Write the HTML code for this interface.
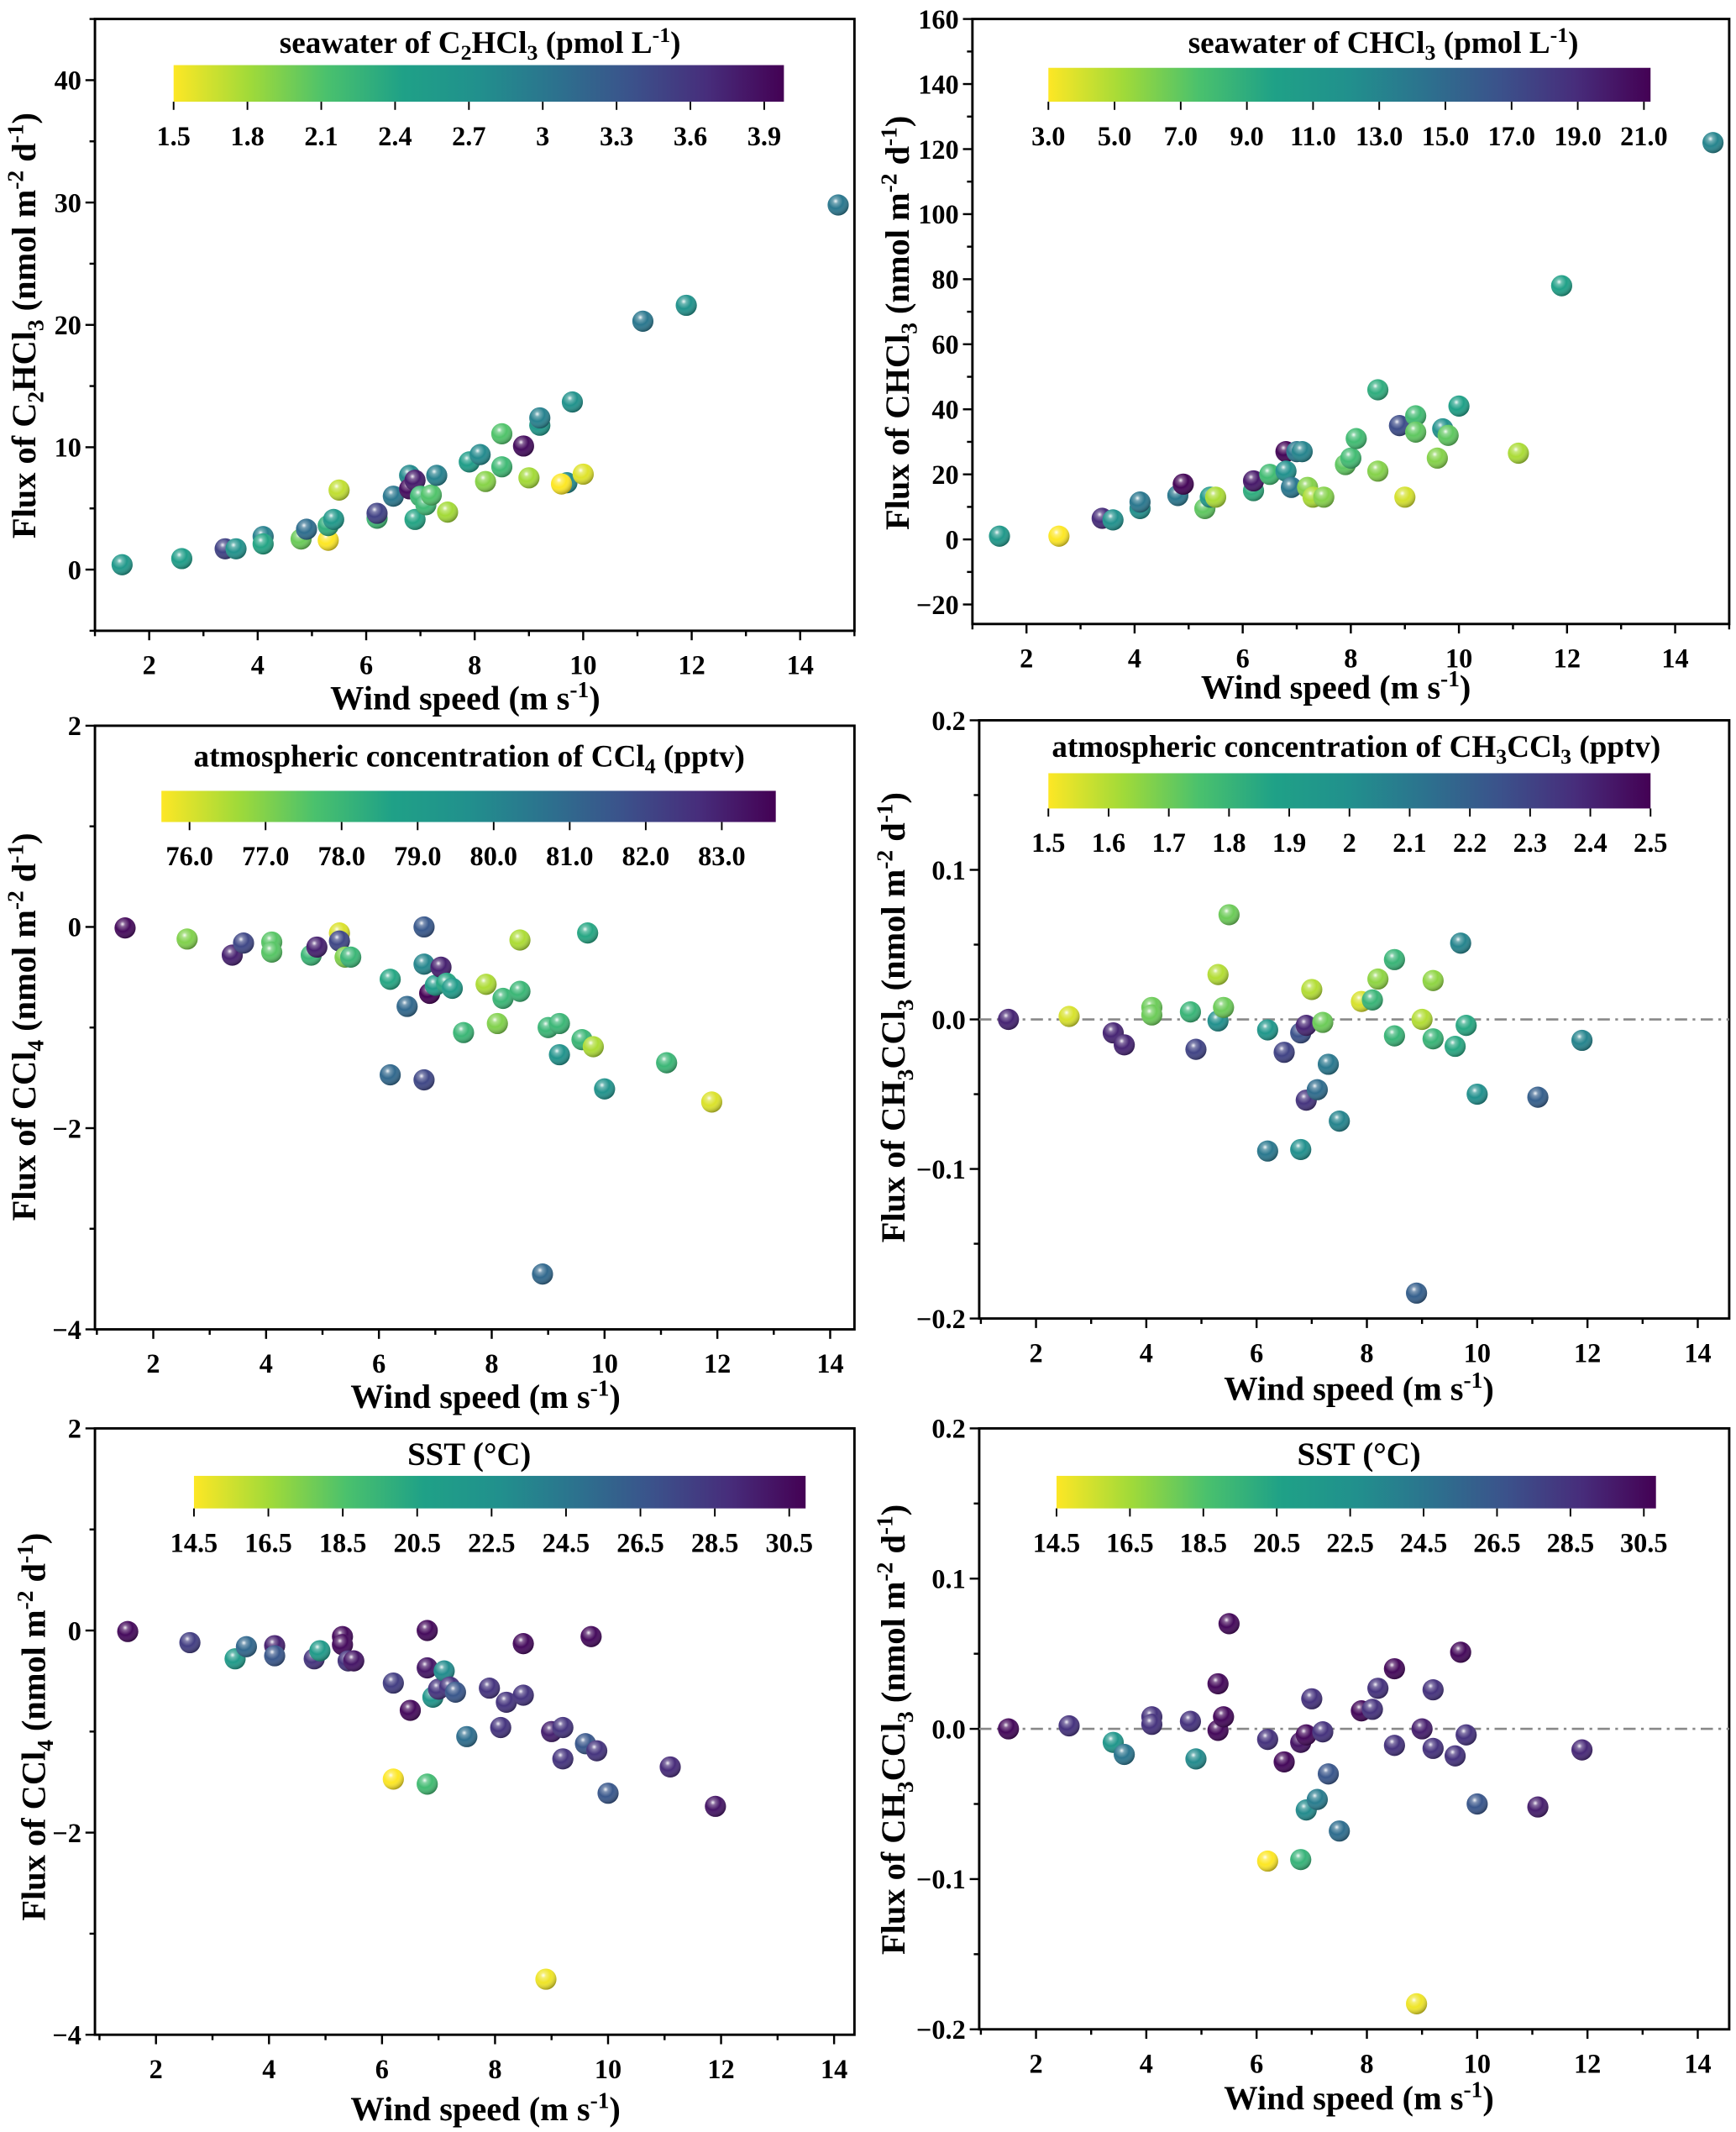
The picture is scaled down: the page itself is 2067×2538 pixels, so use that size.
<!DOCTYPE html>
<html><head><meta charset="utf-8">
<style>
html,body{margin:0;padding:0;background:#fff;}
svg{display:block;font-family:"Liberation Serif",serif;font-weight:bold;}
</style></head>
<body>
<svg id="fig" width="2067" height="2538" viewBox="0 0 1280 1571.7" xmlns="http://www.w3.org/2000/svg">
<defs>
<linearGradient id="viridis" x1="0" x2="1" y1="0" y2="0">
<stop offset="0" stop-color="#fde725"/><stop offset="0.125" stop-color="#a0da39"/><stop offset="0.25" stop-color="#4ac16d"/><stop offset="0.375" stop-color="#1fa187"/><stop offset="0.5" stop-color="#21908d"/><stop offset="0.625" stop-color="#2c728e"/><stop offset="0.75" stop-color="#3b528b"/><stop offset="0.875" stop-color="#472d7b"/><stop offset="1" stop-color="#440154"/>
</linearGradient>
<radialGradient id="shine" cx="0.38" cy="0.32" r="0.7">
<stop offset="0" stop-color="#fff" stop-opacity="0.95"/><stop offset="0.18" stop-color="#fff" stop-opacity="0.35"/><stop offset="0.5" stop-color="#fff" stop-opacity="0"/><stop offset="1" stop-color="#000" stop-opacity="0.35"/>
</radialGradient>
</defs>
<g id="layer"></g>
<text x="354" y="39" font-size="23" text-anchor="middle">seawater of C<tspan dy="5" font-size="16">2</tspan><tspan dy="-5">HCl</tspan><tspan dy="5" font-size="16">3</tspan><tspan dy="-5"> (pmol L</tspan><tspan dy="-8" font-size="16">-1</tspan><tspan dy="8">)</tspan></text>
<text x="1020" y="39" font-size="23" text-anchor="middle">seawater of CHCl<tspan dy="5" font-size="16">3</tspan><tspan dy="-5"> (pmol L</tspan><tspan dy="-8" font-size="16">-1</tspan><tspan dy="8">)</tspan></text>
<text x="346" y="565" font-size="23" text-anchor="middle">atmospheric concentration of CCl<tspan dy="5" font-size="16">4</tspan><tspan dy="-5"> (pptv)</tspan></text>
<text x="1000" y="558" font-size="23" text-anchor="middle">atmospheric concentration of CH<tspan dy="5" font-size="16">3</tspan><tspan dy="-5">CCl</tspan><tspan dy="5" font-size="16">3</tspan><tspan dy="-5"> (pptv)</tspan></text>
<text x="346" y="1080" font-size="24" text-anchor="middle">SST (°C)</text>
<text x="1002" y="1080" font-size="24" text-anchor="middle">SST (°C)</text>
<text x="343" y="523" font-size="25" text-anchor="middle">Wind speed (m s<tspan dy="-9" font-size="17">-1</tspan><tspan dy="9">)</tspan></text>
<text x="985" y="515" font-size="25" text-anchor="middle">Wind speed (m s<tspan dy="-9" font-size="17">-1</tspan><tspan dy="9">)</tspan></text>
<text x="358" y="1038" font-size="25" text-anchor="middle">Wind speed (m s<tspan dy="-9" font-size="17">-1</tspan><tspan dy="9">)</tspan></text>
<text x="1002" y="1032" font-size="25" text-anchor="middle">Wind speed (m s<tspan dy="-9" font-size="17">-1</tspan><tspan dy="9">)</tspan></text>
<text x="358" y="1563" font-size="25" text-anchor="middle">Wind speed (m s<tspan dy="-9" font-size="17">-1</tspan><tspan dy="9">)</tspan></text>
<text x="1002" y="1555" font-size="25" text-anchor="middle">Wind speed (m s<tspan dy="-9" font-size="17">-1</tspan><tspan dy="9">)</tspan></text>
<text transform="translate(26,240) rotate(-90)" font-size="25" text-anchor="middle">Flux of C<tspan dy="6" font-size="17">2</tspan><tspan dy="-6">HCl</tspan><tspan dy="6" font-size="17">3</tspan><tspan dy="-6"> (nmol m</tspan><tspan dy="-9" font-size="17">-2</tspan><tspan dy="9"> d</tspan><tspan dy="-9" font-size="17">-1</tspan><tspan dy="9">)</tspan></text>
<text transform="translate(670,238) rotate(-90)" font-size="25" text-anchor="middle">Flux of CHCl<tspan dy="6" font-size="17">3</tspan><tspan dy="-6"> (nmol m</tspan><tspan dy="-9" font-size="17">-2</tspan><tspan dy="9"> d</tspan><tspan dy="-9" font-size="17">-1</tspan><tspan dy="9">)</tspan></text>
<text transform="translate(26,757) rotate(-90)" font-size="25" text-anchor="middle">Flux of CCl<tspan dy="6" font-size="17">4</tspan><tspan dy="-6"> (nmol m</tspan><tspan dy="-9" font-size="17">-2</tspan><tspan dy="9"> d</tspan><tspan dy="-9" font-size="17">-1</tspan><tspan dy="9">)</tspan></text>
<text transform="translate(667,750) rotate(-90)" font-size="25" text-anchor="middle">Flux of CH<tspan dy="6" font-size="17">3</tspan><tspan dy="-6">CCl</tspan><tspan dy="6" font-size="17">3</tspan><tspan dy="-6"> (nmol m</tspan><tspan dy="-9" font-size="17">-2</tspan><tspan dy="9"> d</tspan><tspan dy="-9" font-size="17">-1</tspan><tspan dy="9">)</tspan></text>
<text transform="translate(33,1273) rotate(-90)" font-size="25" text-anchor="middle">Flux of CCl<tspan dy="6" font-size="17">4</tspan><tspan dy="-6"> (nmol m</tspan><tspan dy="-9" font-size="17">-2</tspan><tspan dy="9"> d</tspan><tspan dy="-9" font-size="17">-1</tspan><tspan dy="9">)</tspan></text>
<text transform="translate(667,1275) rotate(-90)" font-size="25" text-anchor="middle">Flux of CH<tspan dy="6" font-size="17">3</tspan><tspan dy="-6">CCl</tspan><tspan dy="6" font-size="17">3</tspan><tspan dy="-6"> (nmol m</tspan><tspan dy="-9" font-size="17">-2</tspan><tspan dy="9"> d</tspan><tspan dy="-9" font-size="17">-1</tspan><tspan dy="9">)</tspan></text>
</svg>
<script>
const windA = [1.5,2.6,3.4,3.6,4.1,4.1,4.8,4.9,5.3,5.3,5.4,5.5,6.2,6.2,6.5,6.8,6.8,6.9,6.9,7.0,7.1,7.2,7.3,7.5,7.9,8.1,8.2,8.5,8.5,8.9,9.0,9.2,9.2,9.7,9.6,9.8,10.0,11.1,11.9,14.7];
const fluxC2HCl3 = [0.4,0.9,1.7,1.7,2.7,2.1,2.5,3.3,2.4,3.6,4.1,6.5,4.2,4.6,6.0,7.7,6.6,7.3,4.1,6.0,5.3,6.1,7.7,4.7,8.8,9.4,7.2,11.1,8.4,10.1,7.5,11.8,12.4,7.1,7.0,13.7,7.8,20.3,21.6,29.8];
const swC2HCl3 = [2.6,2.5,3.5,2.7,2.9,2.4,2.0,3.1,1.5,2.3,2.6,1.7,2.2,3.5,3.0,2.8,3.9,3.8,2.4,2.2,2.2,2.1,2.9,1.8,2.5,2.8,1.9,2.1,2.2,3.9,1.8,2.6,2.9,2.8,1.5,2.7,1.6,3.0,2.7,3.0];
const windB = [1.5,2.6,3.4,3.6,4.1,4.1,4.8,4.9,5.3,5.4,5.5,6.2,6.2,6.5,6.8,6.8,6.9,7.0,7.1,7.2,7.3,7.5,7.9,8.0,8.1,8.5,8.5,8.9,9.0,9.2,9.2,9.6,9.7,9.8,10.0,11.1,11.9,14.7];
const fluxCHCl3 = [1,1,6.5,6,9.5,11.5,13.5,17,9.5,13,13,15,18,20,27,21,16,27,27,16,13,13,23,25,31,46,21,35,13,38,33,25,34,32,41,26.5,78,122];
const swCHCl3 = [11,3,19,12,12,14,14,21,7,11,5,9,20,8,21,12,14,14,13,6,5,6,7,8,8,9,6,17,4,8,7,6,12,7,10,5,10,13];
const windC = [1.5,2.6,3.4,3.6,4.1,4.1,4.8,4.9,5.3,5.3,5.4,5.5,6.2,6.2,6.5,6.8,6.8,6.8,6.9,7.0,7.1,7.2,7.3,7.5,7.9,8.1,8.2,8.5,8.5,9.0,8.9,9.2,9.2,9.6,9.7,9.8,10.0,11.1,11.9];
const fluxCCl4 = [-0.01,-0.12,-0.28,-0.16,-0.15,-0.25,-0.28,-0.2,-0.06,-0.14,-0.3,-0.3,-0.52,-1.47,-0.79,0.0,-0.37,-1.52,-0.66,-0.58,-0.4,-0.56,-0.61,-1.05,-0.57,-0.96,-0.71,-0.13,-0.64,-1.0,-3.45,-0.96,-1.27,-1.12,-0.06,-1.19,-1.61,-1.35,-1.74];
const atmCCl4 = [83.5,77.0,83.0,82.0,77.5,77.5,78.0,83.0,76.0,82.0,77.0,78.0,78.5,81.0,81.0,81.5,80.0,82.0,83.7,79.0,83.0,78.5,79.0,78.0,76.5,77.0,78.0,76.5,78.0,78.0,81.0,78.0,79.5,78.0,78.5,76.5,79.5,78.0,76.0];
const sstCCl4 = [30.5,28.0,21.5,25.5,29.5,26.5,28.5,21.5,30.5,30.5,28.5,30.0,28.0,14.5,30.5,30.5,30.0,19.0,22.0,28.5,23.0,28.5,26.5,25.0,28.5,28.5,28.5,30.5,28.5,29.5,14.8,28.5,28.5,26.5,30.5,28.5,26.5,29.0,30.0];
const windD = [1.5,2.6,3.4,3.6,4.1,4.1,4.8,4.9,5.3,5.3,5.4,5.5,6.2,6.2,6.5,6.8,6.8,6.9,6.9,7.0,7.1,7.2,7.3,7.5,7.9,8.1,8.2,8.5,8.5,8.9,9.0,9.2,9.2,9.6,9.7,9.8,10.0,11.1,11.9];
const fluxCH3CCl3 = [0,0.002,-0.009,-0.017,0.008,0.003,0.005,-0.02,0.03,-0.001,0.008,0.07,-0.007,-0.088,-0.022,-0.009,-0.087,-0.004,-0.054,0.02,-0.047,-0.002,-0.03,-0.068,0.012,0.013,0.027,0.04,-0.011,-0.183,0,0.026,-0.013,-0.018,0.051,-0.004,-0.05,-0.052,-0.014];
const atmCH3CCl3 = [2.4,1.55,2.4,2.4,1.7,1.7,1.8,2.3,1.6,2.0,1.7,1.7,1.95,2.1,2.3,2.25,2.0,2.4,2.35,1.6,2.15,1.7,2.1,2.05,1.55,1.8,1.65,1.8,1.8,2.2,1.6,1.65,1.8,1.85,2.05,1.85,2.0,2.2,2.05];
const sstCH3CCl3 = [30.5,28.5,22.0,24.5,28.5,28.5,28.5,23.0,30.5,30.5,30.5,30.5,28.5,14.5,30.5,30.0,19.5,30.5,23.0,28.5,24.0,28.5,26.5,25.0,30.5,28.5,28.5,30.5,28.5,14.8,29.5,28.5,28.5,28.5,30.5,28.5,26.5,29.5,29.0];

const NS = 'http://www.w3.org/2000/svg';
const layer = document.getElementById('layer');
const vir = [[0,'#fde725'],[0.125,'#a0da39'],[0.25,'#4ac16d'],[0.375,'#1fa187'],[0.5,'#21908d'],[0.625,'#2c728e'],[0.75,'#3b528b'],[0.875,'#472d7b'],[1,'#440154']];
function hex(h){return [1,3,5].map(i=>parseInt(h.substr(i,2),16));}
function cmap(t){
  t=Math.max(0,Math.min(1,t));
  for(let i=0;i<vir.length-1;i++){
    if(t<=vir[i+1][0]){
      const a=hex(vir[i][1]),b=hex(vir[i+1][1]),f=(t-vir[i][0])/(vir[i+1][0]-vir[i][0]);
      return 'rgb('+a.map((v,k)=>Math.round(v+(b[k]-v)*f)).join(',')+')';
    }
  }
  return vir[vir.length-1][1];
}
function mk(tag,attrs,parent){const e=document.createElementNS(NS,tag);for(const k in attrs)e.setAttribute(k,attrs[k]);(parent||layer).appendChild(e);return e;}
function fmt(v,dec){let s=v.toFixed(dec);if(Math.abs(v)<1e-9)s=(0).toFixed(dec);return s.replace('-','\u2212');}

function drawPanel(p, xs, ys, cs){
  const g=mk('g',{});
  
  
  const X=v=>p.L+(v-p.x0)/(p.x1-p.x0)*(p.R-p.L);
  const Y=v=>p.B-(v-p.y0)/(p.y1-p.y0)*(p.B-p.T);
  const fr=mk('rect',{x:p.L,y:p.T,width:p.R-p.L,height:p.B-p.T,fill:'none',stroke:'#000','stroke-width':1.8},g);
  
  
  for(let v=1;v<=p.x1+1e-9;v+=1){
    if(v<p.x0-1e-9)continue;
    const major=(v%2===0);
    mk('line',{x1:X(v),x2:X(v),y1:p.B,y2:p.B+(major?7:4),stroke:'#000','stroke-width':1.5},g);
    if(major){
      const t=mk('text',{x:X(v),y:p.B+32,'font-size':20,'text-anchor':'middle'},g);
      t.textContent=String(v);
      
      
    }
  }
  const n=Math.round((p.y1t-p.y0t)/p.minor);
  const mj=2*p.minor;
  for(let i=0;i<=n;i++){
    const v=p.y0t+i*p.minor;
    if(v<p.y0-1e-9||v>p.y1+1e-9)continue;
    const major=Math.abs(Math.round(v/mj)*mj-v)<1e-6;
    mk('line',{x1:p.L,x2:p.L-(major?7:4),y1:Y(v),y2:Y(v),stroke:'#000','stroke-width':1.5},g);
    if(major){
      const t=mk('text',{x:p.L-10,y:Y(v)+7,'font-size':20,'text-anchor':'end'},g);
      t.textContent=fmt(v,p.dec);
      
      
    }
  }
  if(p.zero){
    const zl=mk('line',{x1:p.L,x2:p.R,y1:Y(0),y2:Y(0),stroke:'#888','stroke-width':1.6,'stroke-dasharray':'9 4 2 4'},g);
    
    
  }
  const cb=mk('rect',{x:p.cbL,y:p.cbT,width:p.cbR-p.cbL,height:p.cbB-p.cbT,fill:'url(#viridis)'},g);
  
  
  const C=v=>p.cbL+(v-p.c0)/(p.c1-p.c0)*(p.cbR-p.cbL);
  p.cticks.forEach(v=>{
    mk('line',{x1:C(v),x2:C(v),y1:p.cbB,y2:p.cbB+6,stroke:'#000','stroke-width':1.2},g);
    const t=mk('text',{x:C(v),y:p.cbB+32,'font-size':20,'text-anchor':'middle'},g);
    t.textContent=p.cfmt(v);
    
    
  });
  xs.forEach((xv,i)=>{
    const cx=X(xv),cy=Y(ys[i]),r=7.8;
    const col=cmap((cs[i]-p.c0)/(p.c1-p.c0));
    const pt=mk('circle',{cx:cx,cy:cy,r:r,fill:col},g);
    
    
    mk('circle',{cx:cx,cy:cy,r:r,fill:'url(#shine)'},g);
  });
}

drawPanel({id:1,L:70,R:630,T:14,B:465,x0:1,x1:15,y0:-5,y1:45,y0t:-5,y1t:45,minor:5,dec:0,
  cbL:128,cbR:578,cbT:48,cbB:75,c0:1.5,c1:3.98,cticks:[1.5,1.8,2.1,2.4,2.7,3.0,3.3,3.6,3.9],
  cfmt:v=>(Math.abs(v-3)<1e-9?'3':v.toFixed(1))}, windA, fluxC2HCl3, swC2HCl3);
drawPanel({id:2,L:717,R:1275,T:14,B:460,x0:1,x1:15,y0:-26,y1:160,y0t:-20,y1t:160,minor:10,dec:0,
  cbL:773,cbR:1217,cbT:50,cbB:75,c0:3,c1:21.2,cticks:[3,5,7,9,11,13,15,17,19,21],
  cfmt:v=>v.toFixed(1)}, windB, fluxCHCl3, swCHCl3);
drawPanel({id:3,L:70,R:630,T:535,B:980,x0:0.966,x1:14.43,y0:-4,y1:2,y0t:-4,y1t:2,minor:1,dec:0,
  cbL:119,cbR:572,cbT:583,cbB:606,c0:75.63,c1:83.71,cticks:[76,77,78,79,80,81,82,83],
  cfmt:v=>v.toFixed(1)}, windC, fluxCCl4, atmCCl4);
drawPanel({id:4,L:722,R:1275,T:531,B:972,x0:0.97,x1:14.57,y0:-0.2,y1:0.2,y0t:-0.2,y1t:0.2,minor:0.05,dec:1,zero:true,
  cbL:773,cbR:1217,cbT:570,cbB:596,c0:1.5,c1:2.5,cticks:[1.5,1.6,1.7,1.8,1.9,2.0,2.1,2.2,2.3,2.4,2.5],
  cfmt:v=>(Math.abs(v-2)<1e-9?'2':v.toFixed(1))}, windD, fluxCH3CCl3, atmCH3CCl3);
drawPanel({id:5,L:70,R:630,T:1053,B:1500,x0:0.92,x1:14.36,y0:-4,y1:2,y0t:-4,y1t:2,minor:1,dec:0,
  cbL:143,cbR:594,cbT:1088,cbB:1112,c0:14.5,c1:30.94,cticks:[14.5,16.5,18.5,20.5,22.5,24.5,26.5,28.5,30.5],
  cfmt:v=>v.toFixed(1)}, windC, fluxCCl4, sstCCl4);
drawPanel({id:6,L:722,R:1275,T:1053,B:1496,x0:0.97,x1:14.57,y0:-0.2,y1:0.2,y0t:-0.2,y1t:0.2,minor:0.05,dec:1,zero:true,
  cbL:779,cbR:1221,cbT:1088,cbB:1112,c0:14.5,c1:30.83,cticks:[14.5,16.5,18.5,20.5,22.5,24.5,26.5,28.5,30.5],
  cfmt:v=>v.toFixed(1)}, windD, fluxCH3CCl3, sstCH3CCl3);
</script>
</body></html>
